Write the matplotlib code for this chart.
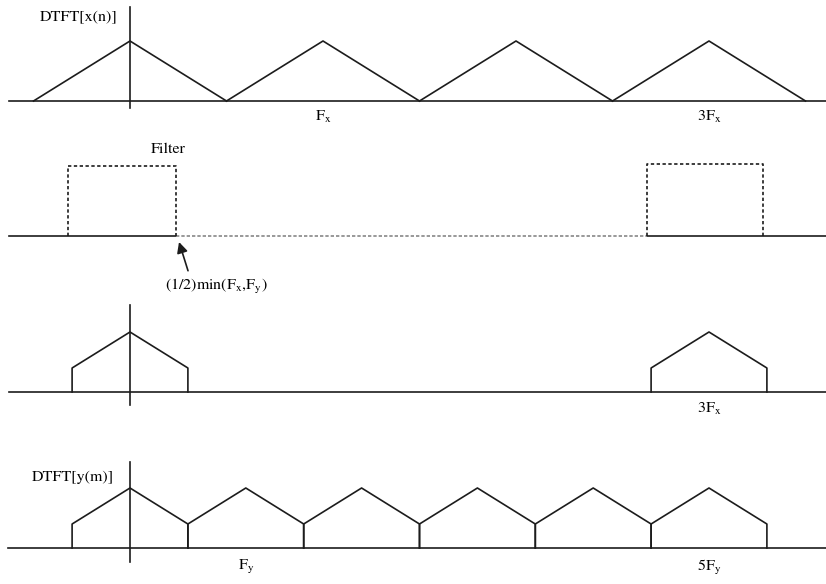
import numpy as np
import matplotlib.pyplot as plt

plt.rcParams['font.family'] = 'STIXGeneral'
plt.rcParams['mathtext.fontset'] = 'stix'

# frequencies measured in units of Fx
Fx = 1.0
Fy = 0.6
cutoff = 0.3  # (1/2)min(Fx, Fy)

# one spectral copy (triangle) and the copy after the low-pass filter
tri_x = [-0.5, 0.0, 0.5]
tri_y = [0.0, 1.0, 0.0]
cut_x = [-0.3, -0.3, 0.0, 0.3, 0.3]
cut_y = [0.0, 0.4, 1.0, 0.4, 0.0]

x_copies = [0, 1, 2, 3]          # multiples of Fx
filtered_copies = [0, 3]         # multiples of Fx
y_copies = [0, 1, 2, 3, 4, 5]    # multiples of Fy

# dotted filter boxes as drawn
filter_x = [[-0.32, -0.32, 0.24, 0.24], [2.68, 2.68, 3.28, 3.28]]
filter_y = [[0.0, 1.17, 1.17, 0.0], [0.0, 1.2, 1.2, 0.0]]

# layout (pixels -> data units)
sx, x0, sy = 193.0, 130.0, 60.0
base = [-101 / sy, -236 / sy, -392 / sy, -548 / sy]
xl, xr = (9 - x0) / sx, (826 - x0) / sx

fig = plt.figure(figsize=(8.26, 5.84), dpi=100)
ax = fig.add_axes([0, 0, 1, 1])
ax.set_xlim(-x0 / sx, (826 - x0) / sx)
ax.set_ylim(-584 / sy, 0)
ax.axis('off')

lc = '#1c1c1c'
lw = 1.2
fs = 11.5

# ---- panel 1: DTFT[x(n)]
b = base[0]
ax.plot([xl, xr], [b, b], color=lc, lw=lw)
ax.plot([0, 0], [b - 0.12, b + 1.57], color=lc, lw=lw)
for c in x_copies:
    ax.plot(c * Fx + np.array(tri_x), b + np.array(tri_y), color=lc, lw=lw)
ax.text(-0.465, b + 1.4, 'DTFT[x(n)]', fontsize=fs, va='center', ha='left')
ax.text(1 * Fx, b - 0.27, r'$\mathrm{F_x}$', fontsize=fs, va='center', ha='center')
ax.text(3 * Fx, b - 0.27, r'$\mathrm{3F_x}$', fontsize=fs, va='center', ha='center')

# ---- panel 2: filter
b = base[1]
fx_l, fx_r = filter_x[0][-1], filter_x[1][0]
ax.plot([xl, fx_l], [b, b], color=lc, lw=lw)
ax.plot([fx_r, xr], [b, b], color=lc, lw=lw)
ax.plot([fx_l, fx_r], [b, b], color='#888888', lw=lw, ls=(0, (2, 1.2)))
for fxs, fys in zip(filter_x, filter_y):
    ax.plot(fxs, b + np.array(fys), color=lc, lw=lw, ls=(0, (2, 1.5)))
ax.text(0.2, b + 1.45, 'Filter', fontsize=fs, va='center', ha='center')
ax.annotate(r'$\mathrm{(1/2)min(F_x{,}F_y)}$',
            xy=(0.254, b - 0.1), xytext=(0.45, b - 0.85),
            fontsize=fs, ha='center', va='center',
            arrowprops=dict(arrowstyle='-|>', color=lc, lw=1.2,
                            mutation_scale=16, shrinkA=3, shrinkB=0,
                            relpos=(0.24, 1.0)))

# ---- panel 3: filtered x
b = base[2]
ax.plot([xl, xr], [b, b], color=lc, lw=lw)
ax.plot([0, 0], [b - 0.22, b + 1.45], color=lc, lw=lw)
for c in filtered_copies:
    ax.plot(c * Fx + np.array(cut_x), b + np.array(cut_y), color=lc, lw=lw)
ax.text(3 * Fx, b - 0.28, r'$\mathrm{3F_x}$', fontsize=fs, va='center', ha='center')

# ---- panel 4: DTFT[y(m)]
b = base[3]
ax.plot([(8 - x0) / sx, xr], [b, b], color=lc, lw=lw)
ax.plot([0, 0], [b - 0.23, b + 1.43], color=lc, lw=lw)
for c in y_copies:
    ax.plot(c * Fy + np.array(cut_x), b + np.array(cut_y), color=lc, lw=lw)
ax.text(-0.508, b + 1.18, 'DTFT[y(m)]', fontsize=fs, va='center', ha='left')
ax.text(1 * Fy, b - 0.32, r'$\mathrm{F_y}$', fontsize=fs, va='center', ha='center')
ax.text(5 * Fy, b - 0.32, r'$\mathrm{5F_y}$', fontsize=fs, va='center', ha='center')

fig.savefig('out.png', dpi=100)
